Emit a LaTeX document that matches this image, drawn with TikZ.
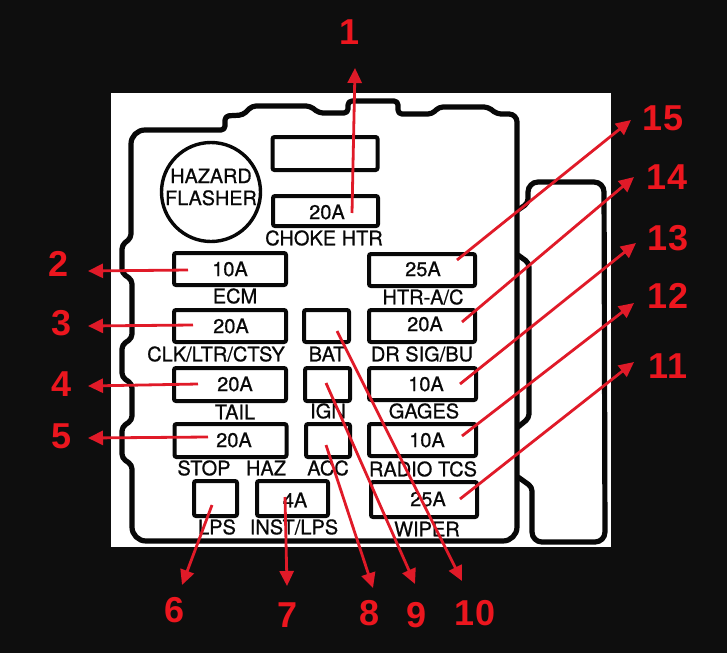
\documentclass[tikz,border=0pt]{standalone}
\usepackage{fontspec}
\setmainfont{TeX Gyre Heros}[FakeBold=0.7]
\newfontfamily\numfont{Liberation Sans}
\usetikzlibrary{graphs}
\usetikzlibrary{arrows.meta}
\definecolor{backdrop}{RGB}{14,14,14}
\definecolor{inkline}{RGB}{8,8,8}
\definecolor{numred}{RGB}{236,22,30}
\definecolor{arrowred}{RGB}{224,26,40}
\tikzset{
    fusebox/.style={draw=inkline, line width=4pt, rounded corners=2pt, inner sep=0pt, fill=white},
    rating/.style={text=inkline, inner sep=0pt, font=\fontsize{20}{22}\selectfont},
    fusename/.style={text=inkline, inner sep=0pt, font=\fontsize{20}{22}\selectfont},
    callout/.style={text=numred, inner sep=0pt, font=\numfont\bfseries\fontsize{36}{38}\selectfont},
    casing/.style={draw=inkline, line width=5.2pt, rounded corners=4pt, line join=round},
    lead/.style={draw=arrowred, line width=2.8pt},
}
\begin{document}
\begin{tikzpicture}[x=1pt, y=-1pt, >={Triangle[length=15pt,width=14pt]}]
    \useasboundingbox (0,0) rectangle (727,653);
    \fill[backdrop] (0,0) rectangle (727,653);
    \fill[white] (111,93) rectangle (611,547);

    \draw[casing] (131,160) [rounded corners=14pt] -- (131,130) [rounded corners=4pt] -- (225,130)
        -- (225,116) -- (243,115) -- (252,106) -- (310,106) -- (319,113) -- (348,113) -- (348,101)
        -- (398,101) -- (398,114) -- (432,114) -- (439,107) -- (488,107) -- (497,114)
        [rounded corners=8pt] -- (517,114) [rounded corners=14pt] -- (517,541) -- (132,541)
        [rounded corners=4pt] -- (132,465) -- (122,458) -- (122,427) -- (132,420) -- (132,384)
        -- (122,377) -- (122,345) -- (132,338) -- (132,280) -- (122,273) -- (122,245)
        -- (131,238) -- cycle;
    \draw[casing] (518,210) -- (528,203) [rounded corners=10pt] -- (528,182) -- (604,182)
        -- (605,542) -- (532,542) [rounded corners=4pt] -- (532,487) -- (518,477);
    \draw[casing] (518,255) -- (529,263) -- (529,418) -- (518,427);

    \node[circle, draw=inkline, line width=3.4pt, minimum size=99pt, inner sep=0pt] (hazard) at (211,192) {};
    \node[align=center, text=inkline, inner sep=0pt, font=\fontsize{19.8}{22}\selectfont] (hazardtext) at (211,187) {HAZARD\\FLASHER};

    \node[fusebox, minimum width=105pt, minimum height=33pt] (blank) at (325,153.5) {};
    \node[fusebox, minimum width=105pt, minimum height=30pt] (choke) at (325.5,211) {};
    \node[fusebox, minimum width=112pt, minimum height=32pt] (ecm) at (230,269) {};
    \node[fusebox, minimum width=112pt, minimum height=32pt] (clk) at (230,326) {};
    \node[fusebox, minimum width=112pt, minimum height=33pt] (tail) at (230,384.5) {};
    \node[fusebox, minimum width=112pt, minimum height=33pt] (stop) at (230.5,440.5) {};
    \node[fusebox, minimum width=45pt, minimum height=32pt] (bat) at (326.5,326) {};
    \node[fusebox, minimum width=45pt, minimum height=33pt] (ign) at (327.5,384.5) {};
    \node[fusebox, minimum width=44pt, minimum height=33pt] (acc) at (328,440.5) {};
    \node[fusebox, minimum width=43pt, minimum height=35pt] (lps) at (215.5,498.5) {};
    \node[fusebox, minimum width=71pt, minimum height=35pt] (inst) at (292.5,498.5) {};
    \node[fusebox, minimum width=106pt, minimum height=32pt] (htr) at (422,270) {};
    \node[fusebox, minimum width=106pt, minimum height=32pt] (drsig) at (422,326) {};
    \node[fusebox, minimum width=107pt, minimum height=32pt] (gages) at (422.5,384) {};
    \node[fusebox, minimum width=107pt, minimum height=32pt] (radio) at (422.5,440) {};
    \node[fusebox, minimum width=106pt, minimum height=35pt] (wiper) at (424,499.5) {};

    \node[rating] (rchoke) at (327,212) {20A};
    \node[rating] (recm) at (230,269) {10A};
    \node[rating] (rclk) at (231,326) {20A};
    \node[rating] (rtail) at (235,384) {20A};
    \node[rating] (rstop) at (234,440) {20A};
    \node[rating] (rinst) at (295,500) {4A};
    \node[rating] (rhtr) at (423,269) {25A};
    \node[rating] (rdrsig) at (425,324) {20A};
    \node[rating] (rgages) at (426,384) {10A};
    \node[rating] (rradio) at (427,440) {10A};
    \node[rating] (rwiper) at (428,499) {25A};

    \node[fusename] (nchoke) at (324,238) {CHOKE HTR};
    \node[fusename] (necm) at (235,296) {ECM};
    \node[fusename] (nhtr) at (423,297) {HTR-A/C};
    \node[fusename] (nclk) at (216,354) {CLK/LTR/CTSY};
    \node[fusename] (nbat) at (327,354) {BAT};
    \node[fusename] (ndrsig) at (422,354) {DR SIG/BU};
    \node[fusename] (ntail) at (235,412) {TAIL};
    \node[fusename] (nign) at (328,411) {IGN};
    \node[fusename] (ngages) at (424,411) {GAGES};
    \node[fusename] (nstop) at (204,468) {STOP};
    \node[fusename] (nhaz) at (266,468) {HAZ};
    \node[fusename] (nacc) at (328,468) {ACC};
    \node[fusename] (nradio) at (423,469) {RADIO TCS};
    \node[fusename] (nlps) at (217,527) {LPS};
    \node[fusename] (ninst) at (294,527) {INST/LPS};
    \node[fusename] (nwiper) at (427,529) {WIPER};

    \node[callout] (c1) at (350,32) {1};
    \node[callout] (c2) at (59,264) {2};
    \node[callout] (c3) at (62,323) {3};
    \node[callout] (c4) at (62,384) {4};
    \node[callout] (c5) at (62,436) {5};
    \node[callout] (c6) at (175,610) {6};
    \node[callout] (c7) at (288,615) {7};
    \node[callout] (c8) at (370,613) {8};
    \node[callout] (c9) at (417,615) {9};
    \node[callout] (c10) at (475,613) {10};
    \node[callout] (c11) at (668,366) {11};
    \node[callout] (c12) at (668,296) {12};
    \node[callout] (c13) at (668,238) {13};
    \node[callout] (c14) at (667,177) {14};
    \node[callout] (c15) at (663,118) {15};

    \coordinate (s1) at (352,213);    \coordinate (e1) at (355,68);
    \coordinate (s2) at (188,270);    \coordinate (e2) at (88,271);
    \coordinate (s3) at (193,325);    \coordinate (e3) at (88,326);
    \coordinate (s4) at (198,384);    \coordinate (e4) at (88,386);
    \coordinate (s5) at (208,437);    \coordinate (e5) at (88,438);
    \coordinate (s6) at (212,505);    \coordinate (e6) at (182,585);
    \coordinate (s7) at (285,497);    \coordinate (e7) at (287,586);
    \coordinate (s8) at (326,445);    \coordinate (e8) at (373,588);
    \coordinate (s9) at (326,383);    \coordinate (e9) at (415,584);
    \coordinate (s10) at (337,331);   \coordinate (e10) at (462,581);
    \coordinate (s11) at (460,499);   \coordinate (e11) at (634,362);
    \coordinate (s12) at (462,436);   \coordinate (e12) at (634,303);
    \coordinate (s13) at (460,384);   \coordinate (e13) at (636,243);
    \coordinate (s14) at (462,322);   \coordinate (e14) at (634,177);
    \coordinate (s15) at (457,260);   \coordinate (e15) at (631,120);

    \graph[use existing nodes, edges={lead}] {
        s1 -> e1 ; s2 -> e2 ; s3 -> e3 ; s4 -> e4 ; s5 -> e5 ;
        s6 -> e6 ; s7 -> e7 ; s8 -> e8 ; s9 -> e9 ; s10 -> e10 ;
        s11 -> e11 ; s12 -> e12 ; s13 -> e13 ; s14 -> e14 ; s15 -> e15 ;
    } ;
\end{tikzpicture}
\end{document}
